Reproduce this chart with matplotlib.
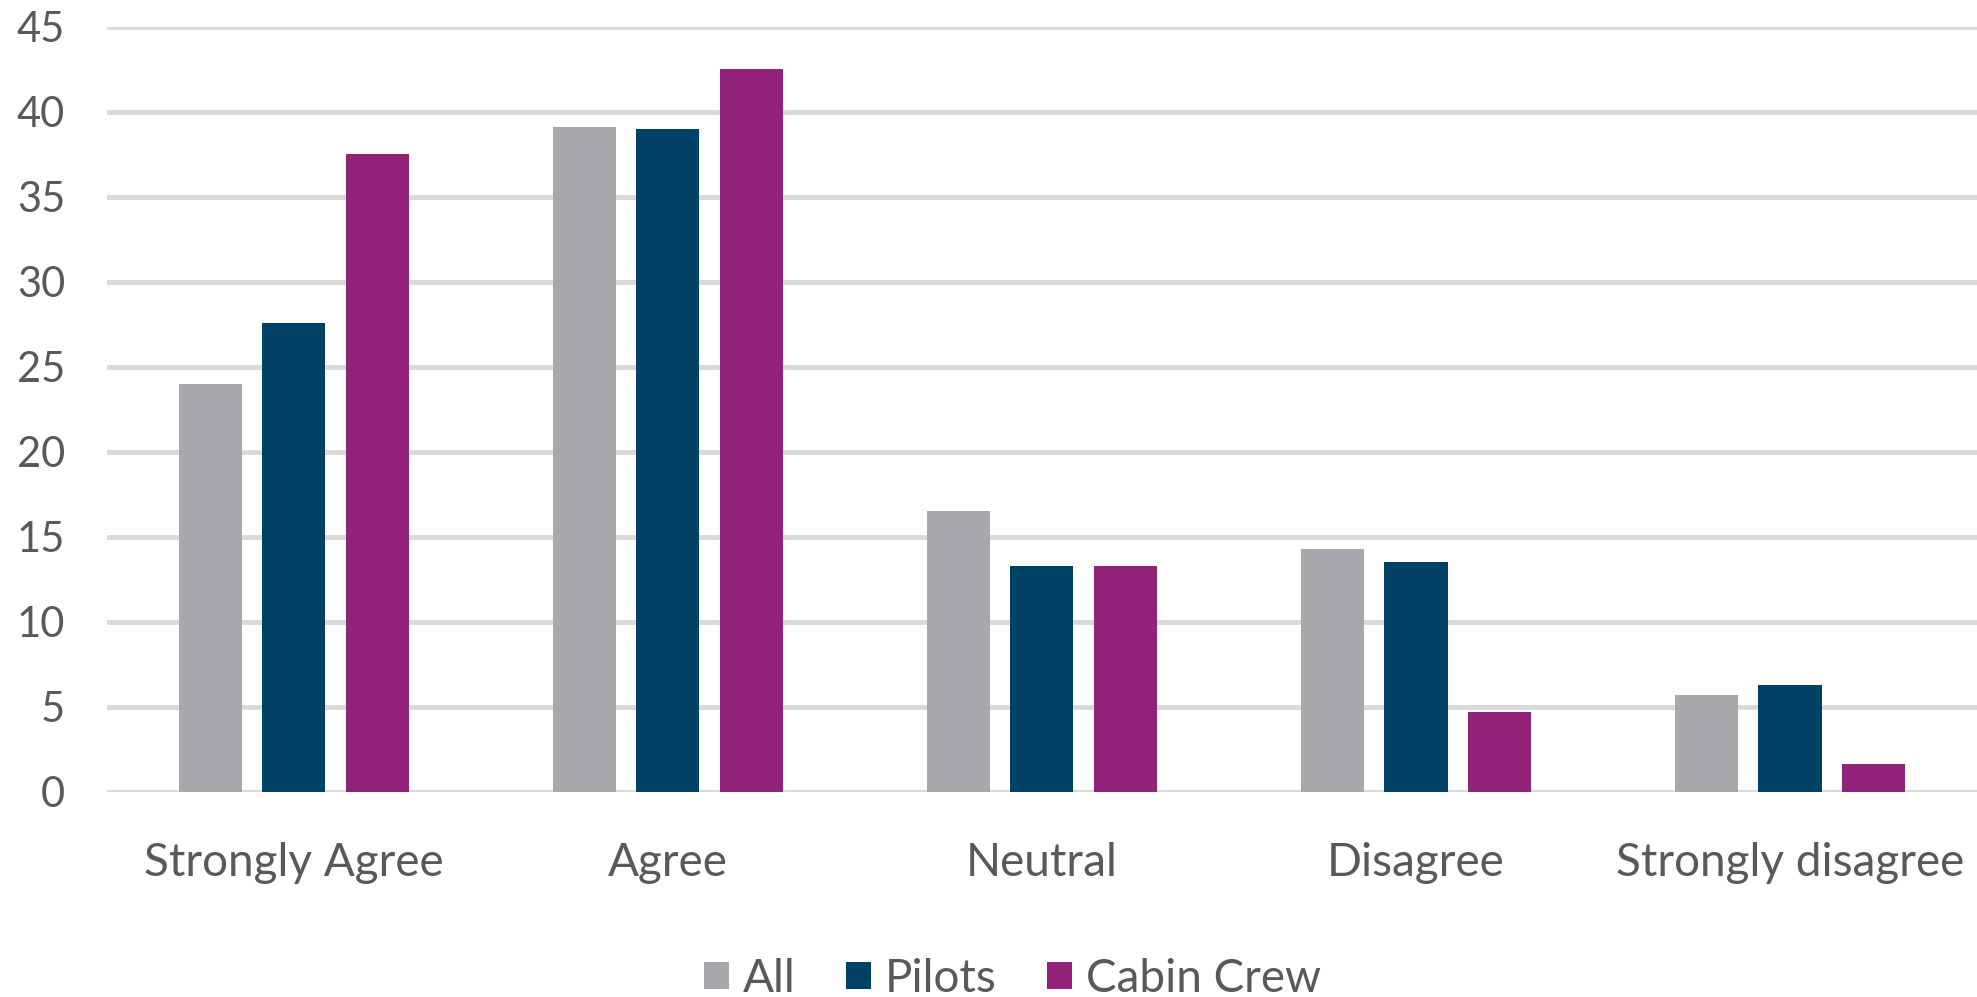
import matplotlib.pyplot as plt
import numpy as np

categories = ["Strongly Agree", "Agree", "Neutral", "Disagree", "Strongly disagree"]
all_resp = [24.0, 39.1, 16.5, 14.3, 5.7]
pilots = [27.6, 39.0, 13.3, 13.5, 6.3]
cabin_crew = [37.5, 42.5, 13.3, 4.7, 1.6]

series = [("All", all_resp, "#A7A8AC"),
          ("Pilots", pilots, "#004166"),
          ("Cabin Crew", cabin_crew, "#93237A")]

plt.rcParams['font.family'] = ['Lato', 'DejaVu Sans']

fig = plt.figure(figsize=(19.77, 9.97), dpi=100)
ax = fig.add_axes([0.054, 0.206, 0.946, 0.767])

x = np.arange(len(categories))
width = 0.169
step = 0.223
for i, (name, vals, col) in enumerate(series):
    ax.bar(x + (i - 1) * step, vals, width, color=col, label=name, zorder=3)

ax.set_xlim(-0.5, len(categories) - 0.5)
ax.set_ylim(0, 45)
ax.set_yticks(np.arange(0, 46, 5))
ax.yaxis.grid(True, color="#D9D9D9", linewidth=3.5, zorder=0)
ax.set_axisbelow(True)
for s in ax.spines.values():
    s.set_visible(False)

ax.set_xticks(x)
ax.set_xticklabels(categories)
ax.tick_params(axis='both', length=0, colors="#595959")
ax.tick_params(axis='x', labelsize=33, pad=36)
ax.tick_params(axis='y', labelsize=30, pad=30)

fig.legend(loc='lower center', bbox_to_anchor=(0.512, -0.044), ncol=3, frameon=False,
           fontsize=33, labelcolor="#595959", handlelength=0.55, handleheight=0.55,
           handletextpad=0.3, columnspacing=1.1)

fig.savefig("out.png", dpi=100)
